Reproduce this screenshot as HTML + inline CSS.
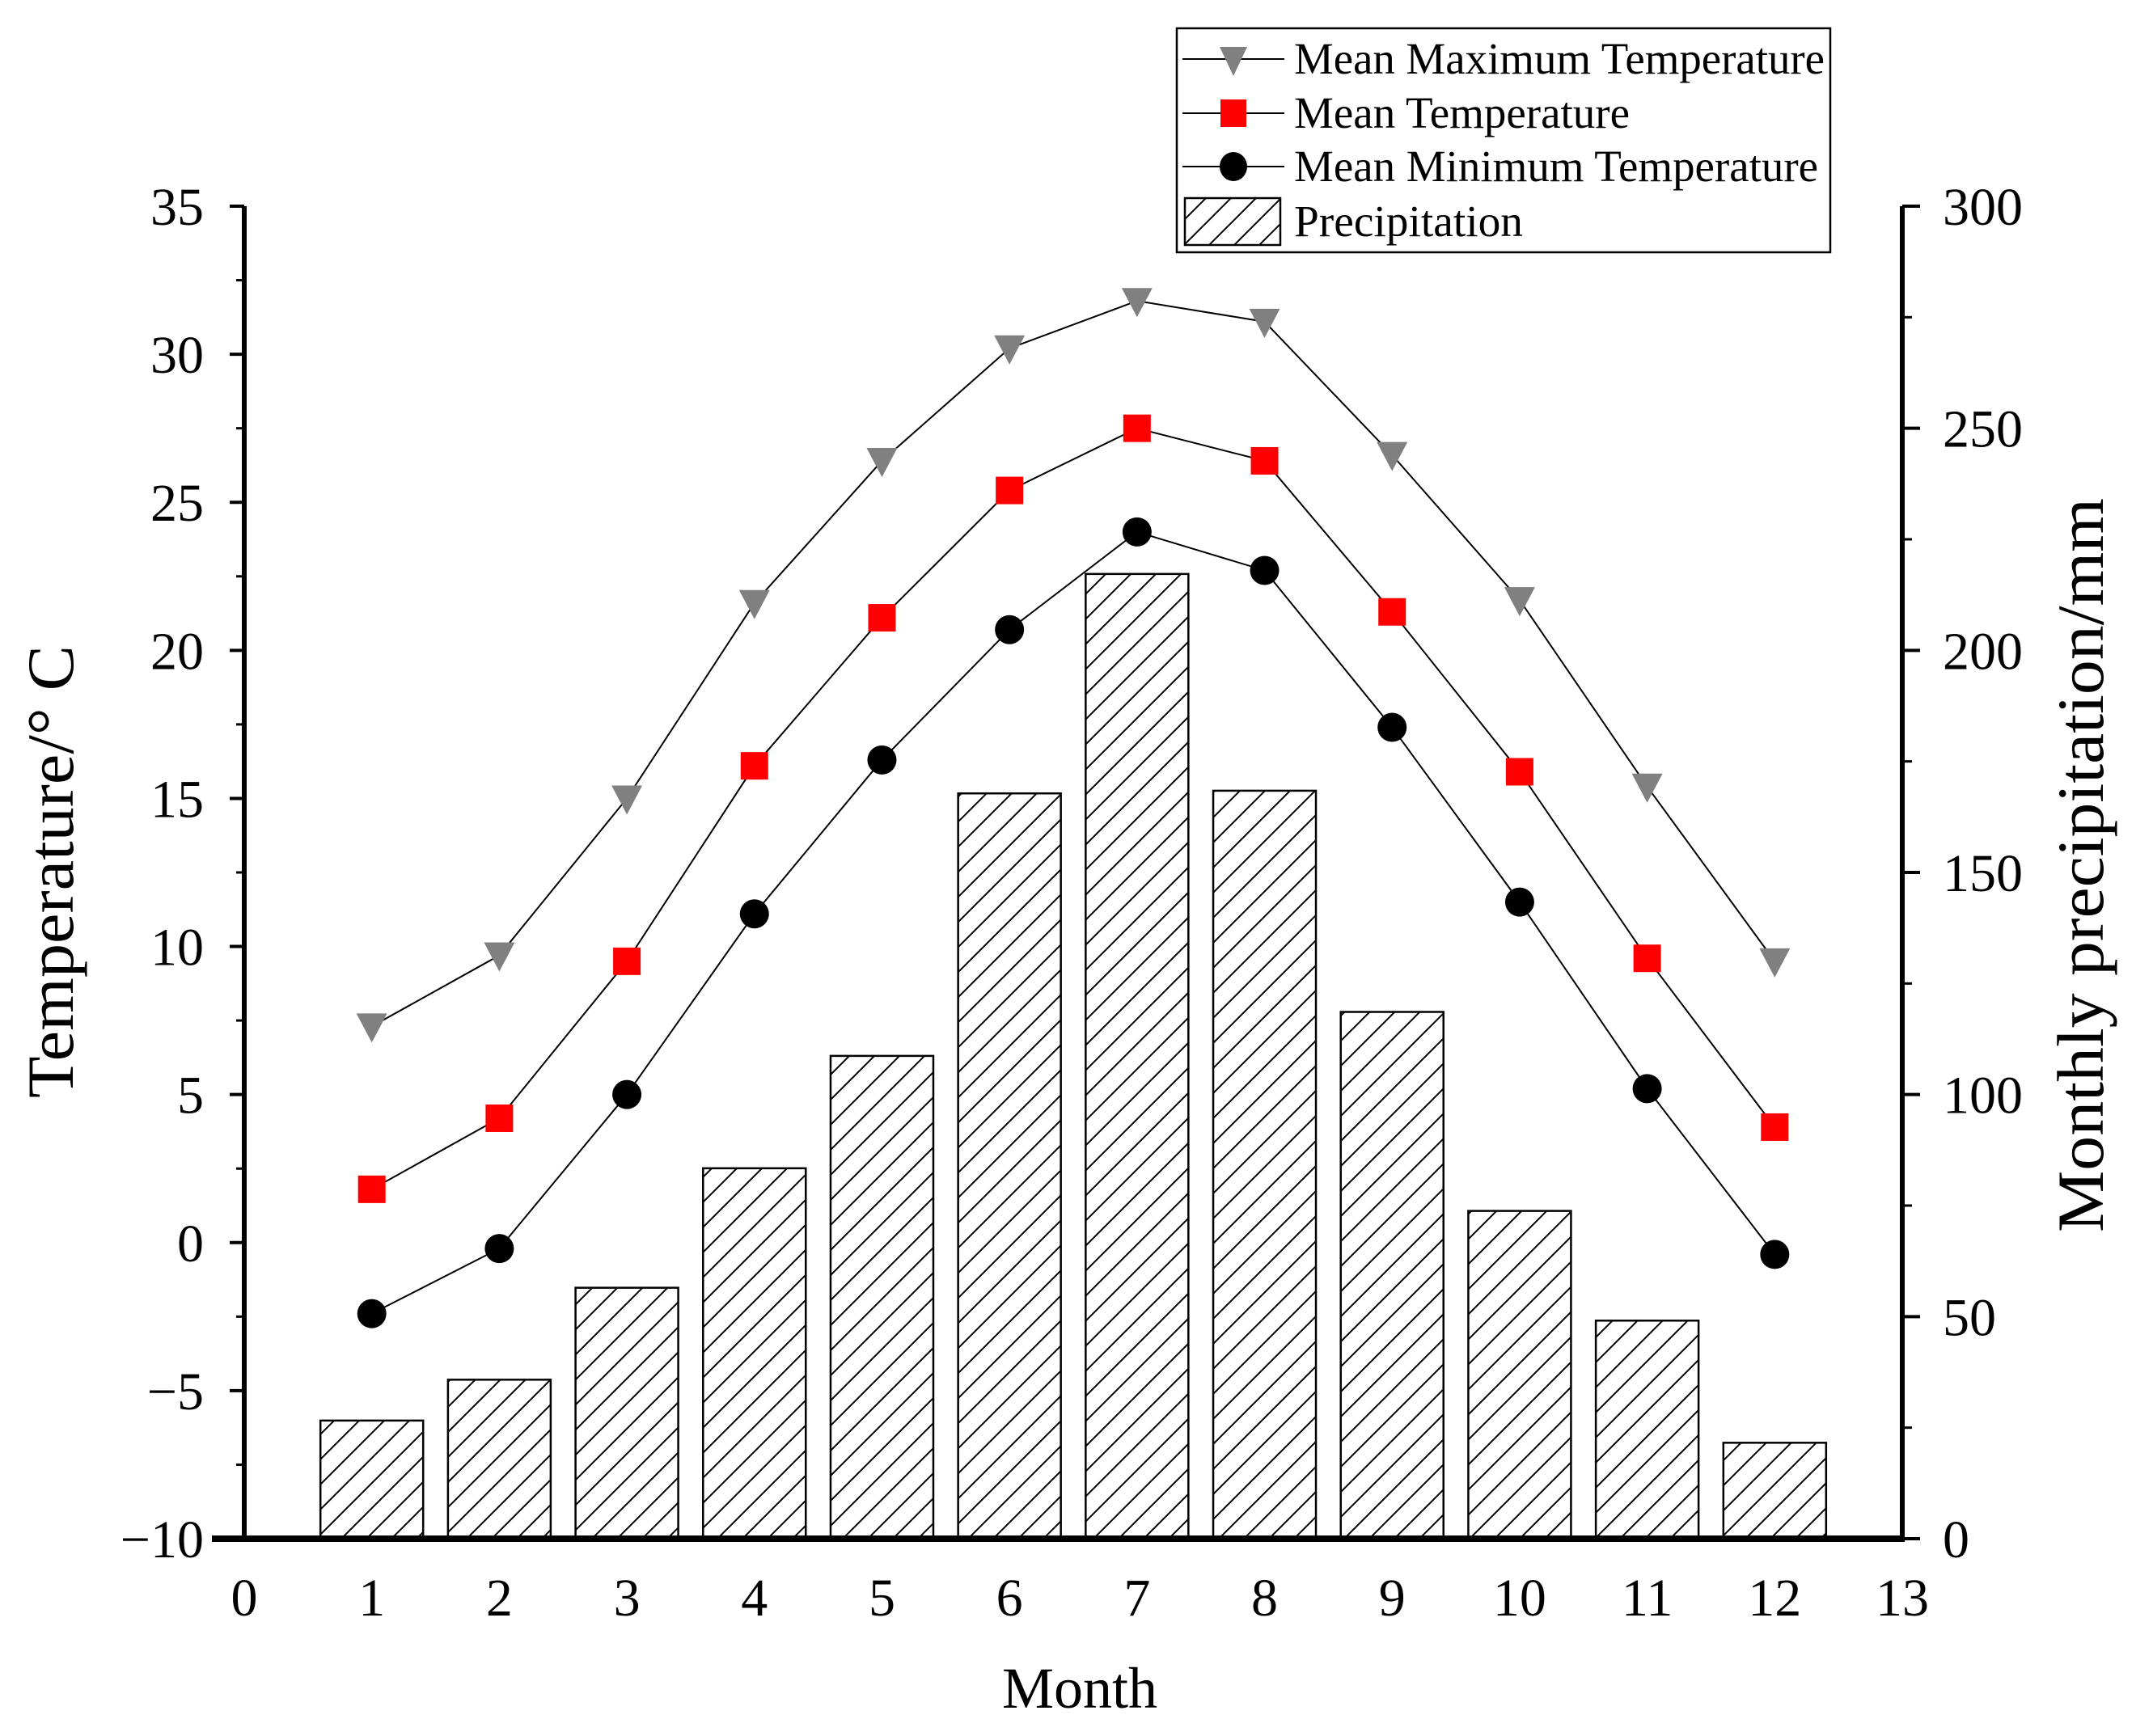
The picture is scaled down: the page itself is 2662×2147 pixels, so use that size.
<!DOCTYPE html>
<html><head><meta charset="utf-8"><style>
html,body{margin:0;padding:0;background:#fff;}
svg{display:block;font-family:"Liberation Serif","Noto Serif CJK SC",serif;}
</style></head><body>
<svg id="chart" width="2662" height="2147" viewBox="0 0 2662 2147" xmlns="http://www.w3.org/2000/svg">
<defs>
<pattern id="hatch" patternUnits="userSpaceOnUse" width="31" height="31">
<path d="M-8,39 L39,-8 M-8,8 L8,-8 M23,39 L39,23" stroke="#000" stroke-width="2"/>
</pattern>
</defs>
<g id="bars"></g>
<g id="axes"></g>
<g id="series"></g>
<g id="legend">
<rect x="1455" y="35" width="808" height="277" fill="#fff" stroke="#000" stroke-width="2.5"/>
<g>
<line x1="1462" y1="73" x2="1588" y2="73" stroke="#000" stroke-width="2"/>
<path d="M1508,58 L1542,58 L1525,94 Z" fill="#808080"/>
<text x="1600" y="91" font-size="55" textLength="656" lengthAdjust="spacingAndGlyphs">Mean Maximum Temperature</text>
</g>
<g>
<line x1="1462" y1="140" x2="1588" y2="140" stroke="#000" stroke-width="2"/>
<rect x="1509" y="123" width="32" height="34" fill="#f00"/>
<text x="1600" y="158" font-size="55" textLength="415" lengthAdjust="spacingAndGlyphs">Mean Temperature</text>
</g>
<g>
<line x1="1462" y1="206" x2="1588" y2="206" stroke="#000" stroke-width="2"/>
<ellipse cx="1525" cy="206" rx="17" ry="18" fill="#000"/>
<text x="1600" y="224" font-size="55" textLength="648" lengthAdjust="spacingAndGlyphs">Mean Minimum Temperature</text>
</g>
<g>
<rect x="1465" y="245" width="118" height="58" fill="url(#hatch)" stroke="#000" stroke-width="2.5"/>
<text x="1600" y="292" font-size="55" textLength="283" lengthAdjust="spacingAndGlyphs">Precipitation</text>
</g>
</g>
</svg>
<script>
const months = [1,2,3,4,5,6,7,8,9,10,11,12];
const maxTemp = [7.3,9.7,15.0,21.6,26.4,30.2,31.8,31.1,26.6,21.7,15.4,9.5];
const meanTemp = [1.8,4.2,9.5,16.1,21.1,25.4,27.5,26.4,21.3,15.9,9.6,3.9];
const minTemp = [-2.4,-0.2,5.0,11.1,16.3,20.7,24.0,22.7,17.4,11.5,5.2,-0.4];
const precip = [26.6,35.8,56.5,83.4,108.7,167.8,217.2,168.4,118.6,73.8,49.1,21.6];
const xTicks = [0,1,2,3,4,5,6,7,8,9,10,11,12,13];
const yTicks = [-10,-5,0,5,10,15,20,25,30,35];
const y2Ticks = [0,50,100,150,200,250,300];

const NS = "http://www.w3.org/2000/svg";
const X0 = 302, X1 = 2352, YB = 1903, YT = 255;
const xs = v => X0 + (v - 0) / 13 * (X1 - X0);
const ys = v => YB - (v + 10) / 45 * (YB - YT);
const ys2 = v => YB - v / 300 * (YB - YT);
function mk(tag, attrs, parent) {
  const e = document.createElementNS(NS, tag);
  for (const k in attrs) e.setAttribute(k, attrs[k]);
  parent.appendChild(e);
  return e;
}
const gBars = document.getElementById('bars');
const gAxes = document.getElementById('axes');
const gSeries = document.getElementById('series');

const bw = 127;
precip.forEach((p, i) => {
  const b = mk('rect', {x: xs(months[i]) - bw/2, y: ys2(p), width: bw, height: YB - ys2(p), fill: 'url(#hatch)', stroke: '#000', 'stroke-width': 2.5}, gBars);
  
  
});

const la = mk('line', {x1: X0, y1: YT, x2: X0, y2: YB + 4, stroke: '#000', 'stroke-width': 6}, gAxes);


const ra = mk('line', {x1: X1, y1: YT, x2: X1, y2: YB + 4, stroke: '#000', 'stroke-width': 6}, gAxes);


const ba = mk('line', {x1: X0 - 40, y1: YB, x2: X1 + 3, y2: YB, stroke: '#000', 'stroke-width': 8}, gAxes);



yTicks.forEach((t, i) => {
  const y = ys(t);
  mk('line', {x1: X0 - 18, y1: y, x2: X0, y2: y, stroke: '#000', 'stroke-width': 4}, gAxes);
  if (i < yTicks.length - 1) {
    const ym = ys(t + 2.5);
    mk('line', {x1: X0 - 10, y1: ym, x2: X0, y2: ym, stroke: '#000', 'stroke-width': 3}, gAxes);
  }
  const tx = mk('text', {x: 252, y: y + 23, 'font-size': 66, 'text-anchor': 'end'}, gAxes);
  tx.textContent = t < 0 ? '\u2212' + Math.abs(t) : String(t);
  
  
});
y2Ticks.forEach((t, i) => {
  const y = ys2(t);
  mk('line', {x1: X1, y1: y, x2: X1 + 22, y2: y, stroke: '#000', 'stroke-width': 4}, gAxes);
  if (i < y2Ticks.length - 1) {
    const ym = ys2(t + 25);
    mk('line', {x1: X1, y1: ym, x2: X1 + 12, y2: ym, stroke: '#000', 'stroke-width': 3}, gAxes);
  }
  const tx = mk('text', {x: 2402, y: y + 23, 'font-size': 66, 'text-anchor': 'start'}, gAxes);
  tx.textContent = String(t);
  
  
});
xTicks.forEach(t => {
  const tx = mk('text', {x: xs(t), y: 1998, 'font-size': 66, 'text-anchor': 'middle'}, gAxes);
  tx.textContent = String(t);
  
  
});
const xt = mk('text', {x: 1335, y: 2112, 'font-size': 72, 'text-anchor': 'middle'}, gAxes);
xt.textContent = 'Month';


const yt = mk('text', {x: 0, y: 0, 'font-size': 82, 'text-anchor': 'middle', textLength: 560, lengthAdjust: 'spacingAndGlyphs', transform: 'translate(90,1078) rotate(-90)'}, gAxes);
yt.textContent = 'Temperature/\u00B0 C';


const y2t = mk('text', {x: 0, y: 0, 'font-size': 82, 'text-anchor': 'middle', textLength: 908, lengthAdjust: 'spacingAndGlyphs', transform: 'translate(2600,1070) rotate(-90)'}, gAxes);
y2t.textContent = 'Monthly precipitation/mm';



function series(vals, name, marker) {
  const g = mk('g', {}, gSeries);
  
  
  const pts = vals.map((v, i) => xs(months[i]) + ',' + ys(v)).join(' ');
  mk('polyline', {points: pts, fill: 'none', stroke: '#000', 'stroke-width': 2}, g);
  vals.forEach((v, i) => {
    const cx = xs(months[i]), cy = ys(v);
    let m;
    if (marker === 'tri') m = mk('path', {d: `M${cx-19},${cy-16} L${cx+19},${cy-16} L${cx},${cy+20} Z`, fill: '#808080'}, g);
    else if (marker === 'sq') m = mk('rect', {x: cx - 17, y: cy - 17, width: 34, height: 34, fill: '#f00'}, g);
    else m = mk('circle', {cx: cx, cy: cy, r: 18, fill: '#000'}, g);
    
    
  });
}
series(maxTemp, 'max-temp-series', 'tri');
series(meanTemp, 'mean-temp-series', 'sq');
series(minTemp, 'min-temp-series', 'circ');
</script>
</body></html>
